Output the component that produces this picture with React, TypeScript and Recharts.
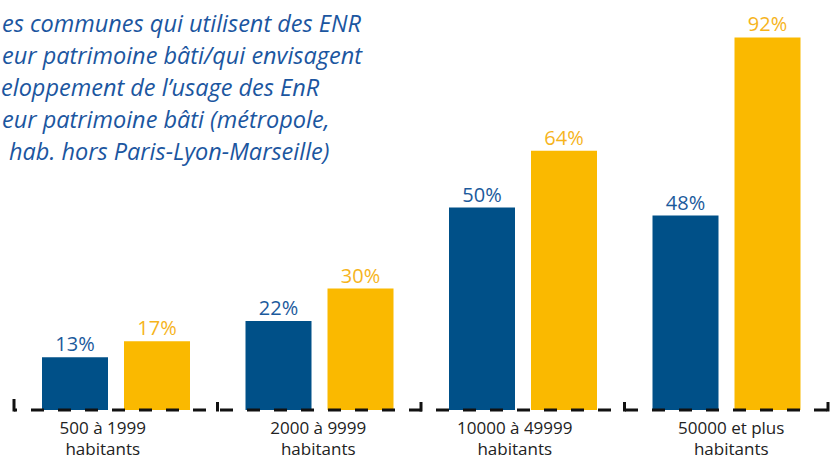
import React from 'react';
import { BarChart, Bar, XAxis, YAxis, LabelList } from 'recharts';

// ---- data ----
const categoryLine1 = ['500 à 1999', '2000 à 9999', '10000 à 49999', '50000 et plus'];
const categoryLine2 = ['habitants', 'habitants', 'habitants', 'habitants'];
const utilisent = [13, 22, 50, 48];
const envisagent = [17, 30, 64, 92];
const titleLines = [
  'es communes qui utilisent des ENR',
  'eur patrimoine bâti/qui envisagent',
  'eloppement de l’usage des EnR',
  'eur patrimoine bâti (métropole,',
  'hab. hors Paris-Lyon-Marseille)',
];

const data = categoryLine1.map((c, i) => ({
  cat: c,
  sub: categoryLine2[i],
  utilisent: utilisent[i],
  envisagent: envisagent[i],
}));

// ---- styles ----
const BLUE = '#005088';
const YELLOW = '#fab900';
const BLUE_TEXT = '#1b5a9c';
const YELLOW_TEXT = '#f6b41c';
const TITLE_COLOR = '#1b56a0';
const FONT = '"Open Sans", "Noto Sans", sans-serif';
const W = 830;
const H = 459;
const MARGIN = { top: 5, right: 2, left: 14, bottom: 0 };
const BAND = (W - MARGIN.left - MARGIN.right) / categoryLine1.length;
const titleX = [2, 2, 1, 2, 9];
const labelDx = [-13, -1, -8, 5];

const CategoryTick = (props: any) => {
  const { x, y, payload, index } = props;
  const i = typeof index === 'number' ? index : payload.index;
  const d = data[i];
  const left = x - BAND / 2;
  const right = x + BAND / 2;
  const last = i === data.length - 1;
  return (
    <g>
      <line x1={left} x2={left} y1={y - (i === 0 ? 11 : 8)} y2={y + 1.5} stroke="#111" strokeWidth={3} />
      {last && <line x1={right} x2={right} y1={y - 8} y2={y + 1.5} stroke="#111" strokeWidth={3} />}
      <text
        x={x + labelDx[i]}
        y={y + 24}
        textAnchor="middle"
        fontFamily={FONT}
        fontSize={17}
        fill="#222"
      >
        {d.cat}
      </text>
      <text
        x={x + labelDx[i]}
        y={y + 45}
        textAnchor="middle"
        fontFamily={FONT}
        fontSize={17}
        fill="#222"
      >
        {d.sub}
      </text>
    </g>
  );
};

export default function App() {
  return (
    <div style={{ position: 'absolute', left: 0, top: 0, width: W, height: H, background: '#fff', overflow: 'hidden' }}>
      <BarChart width={W} height={H} data={data} margin={MARGIN} barSize={66} barGap={16}>
        <YAxis hide domain={[0, 100]} />
        <XAxis
          dataKey="cat"
          interval={0}
          height={49}
          tickSize={0}
          tickMargin={0}
          tickLine={false}
          axisLine={{ stroke: '#111', strokeWidth: 3, strokeDasharray: '13 14', strokeDashoffset: 10 }}
          tick={<CategoryTick />}
        />
        <Bar dataKey="utilisent" fill={BLUE} isAnimationActive={false}>
          <LabelList
            dataKey="utilisent"
            position="top"
            offset={6}
            formatter={(v: any) => `${v}%`}
            fill={BLUE_TEXT}
            fontSize={20}
            fontFamily={FONT}
          />
        </Bar>
        <Bar dataKey="envisagent" fill={YELLOW} isAnimationActive={false}>
          <LabelList
            dataKey="envisagent"
            position="top"
            offset={6}
            formatter={(v: any) => `${v}%`}
            fill={YELLOW_TEXT}
            fontSize={20}
            fontFamily={FONT}
          />
        </Bar>
      </BarChart>
      <svg width={W} height={200} style={{ position: 'absolute', left: 0, top: 0, pointerEvents: 'none' }}>
        {titleLines.map((t, i) => (
          <text
            key={i}
            x={titleX[i]}
            y={32 + i * 32}
            fontFamily={FONT}
            fontStyle="italic"
            fontSize={23.5}
            fill={TITLE_COLOR}
          >
            {t}
          </text>
        ))}
      </svg>
    </div>
  );
}
